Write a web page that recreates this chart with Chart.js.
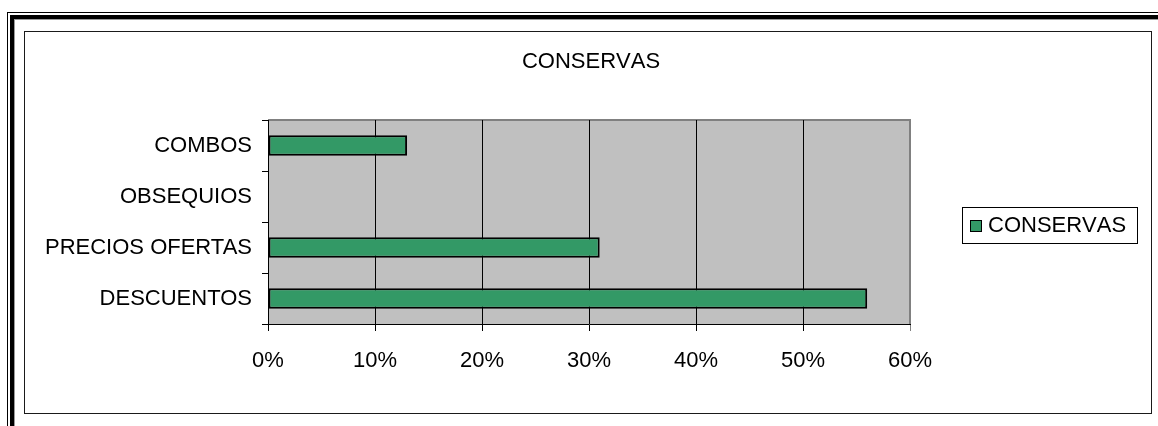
<!DOCTYPE html>
<html>
<head>
<meta charset="utf-8">
<script src="https://cdn.jsdelivr.net/npm/chart.js@4/dist/chart.umd.min.js"></script>
<style>
  html, body { margin: 0; padding: 0; background: #fff; }
  #wrap { width: 1158px; height: 426px; position: relative; }
</style>
</head>
<body>
<div id="wrap"><canvas id="c" width="1158" height="426"></canvas></div>
<script>
// Promotion types and the share reported for canned goods
const categories = ['COMBOS', 'OBSEQUIOS', 'PRECIOS OFERTAS', 'DESCUENTOS'];
const conservas = [13, 0, 31, 56];
const seriesName = 'CONSERVAS';
const chartTitle = 'CONSERVAS';
const xMin = 0;
const xMax = 60;
const xStep = 10;

const FONT = '"Liberation Sans", Arial, sans-serif';
const FONT_SIZE = 22;
const BAR_GREEN = '#339966';

// Page frame, chart border, plot background, title and boxed legend
const decorations = {
  id: 'decorations',
  beforeDraw(chart) {
    const ctx = chart.ctx;
    const W = chart.width, H = chart.height;
    const a = chart.chartArea;
    ctx.save();
    ctx.fillStyle = '#fff';
    ctx.fillRect(0, 0, W, H);

    // double page frame (thin outer, thick inner)
    ctx.fillStyle = '#000';
    ctx.fillRect(7, 12, 1, H - 12);
    ctx.fillRect(7, 12, W - 7, 1);
    ctx.fillRect(10, 15, 4, H - 15);
    ctx.fillRect(10, 15, W - 10, 4);
    ctx.fillStyle = '#9a9a9a';
    ctx.fillRect(14, 19, 1, H - 19);
    ctx.fillRect(14, 19, W - 14, 1);

    // chart border
    ctx.strokeStyle = '#1a1a1a';
    ctx.lineWidth = 1;
    ctx.strokeRect(24.5, 31.5, 1127, 382);

    // plot area
    ctx.fillStyle = '#c0c0c0';
    ctx.fillRect(a.left, a.top, a.right - a.left, a.bottom - a.top);
    ctx.strokeStyle = '#808080';
    ctx.lineWidth = 2;
    ctx.beginPath();
    ctx.moveTo(a.left, a.top);
    ctx.lineTo(a.right, a.top);
    ctx.lineTo(a.right, a.bottom);
    ctx.stroke();

    // title
    ctx.fillStyle = '#000';
    ctx.font = FONT_SIZE + 'px ' + FONT;
    ctx.fontKerning = 'none';
    ctx.textAlign = 'center';
    ctx.textBaseline = 'middle';
    ctx.fillText(chartTitle, 591, 62);

    // legend box
    const ds = chart.data.datasets[0];
    ctx.strokeStyle = '#000';
    ctx.lineWidth = 1;
    ctx.strokeRect(962.5, 207.5, 175, 36);
    ctx.fillStyle = ds.backgroundColor;
    ctx.fillRect(970, 220, 11, 11);
    ctx.strokeRect(970.5, 220.5, 11, 11);
    ctx.fillStyle = '#000';
    ctx.textAlign = 'left';
    ctx.fillText(ds.label, 988, 226);
    ctx.restore();
  }
};

new Chart(document.getElementById('c'), {
  type: 'bar',
  data: {
    labels: categories,
    datasets: [{
      label: seriesName,
      data: conservas,
      backgroundColor: BAR_GREEN,
      borderColor: '#000',
      borderWidth: 2,
      borderSkipped: false,
      barPercentage: 0.4,
      categoryPercentage: 1.0
    }]
  },
  options: {
    indexAxis: 'y',
    responsive: false,
    animation: false,
    devicePixelRatio: 1,
    layout: { padding: { top: 120, right: 248, left: 0, bottom: 0 } },
    plugins: {
      legend: { display: false },
      title: { display: false },
      tooltip: { enabled: false }
    },
    scales: {
      x: {
        type: 'linear',
        min: xMin,
        max: xMax,
        afterFit(scale) { scale.height = 102; },
        ticks: {
          stepSize: xStep,
          color: '#000',
          font: { family: FONT, size: FONT_SIZE },
          padding: 17,
          callback: v => v + '%'
        },
        grid: {
          color: c => (c.tick && c.tick.value === xMax) ? '#808080' : '#000',
          lineWidth: 1,
          tickLength: 7
        },
        border: { color: '#000', width: 1 }
      },
      y: {
        type: 'category',
        offset: true,
        afterFit(scale) { scale.width = 268; },
        ticks: {
          color: '#000',
          font: { family: FONT, size: FONT_SIZE },
          padding: 10
        },
        grid: {
          offset: true,
          drawOnChartArea: false,
          color: '#000',
          tickLength: 6
        },
        border: { color: '#000', width: 1 }
      }
    }
  },
  plugins: [decorations]
});
</script>
</body>
</html>
